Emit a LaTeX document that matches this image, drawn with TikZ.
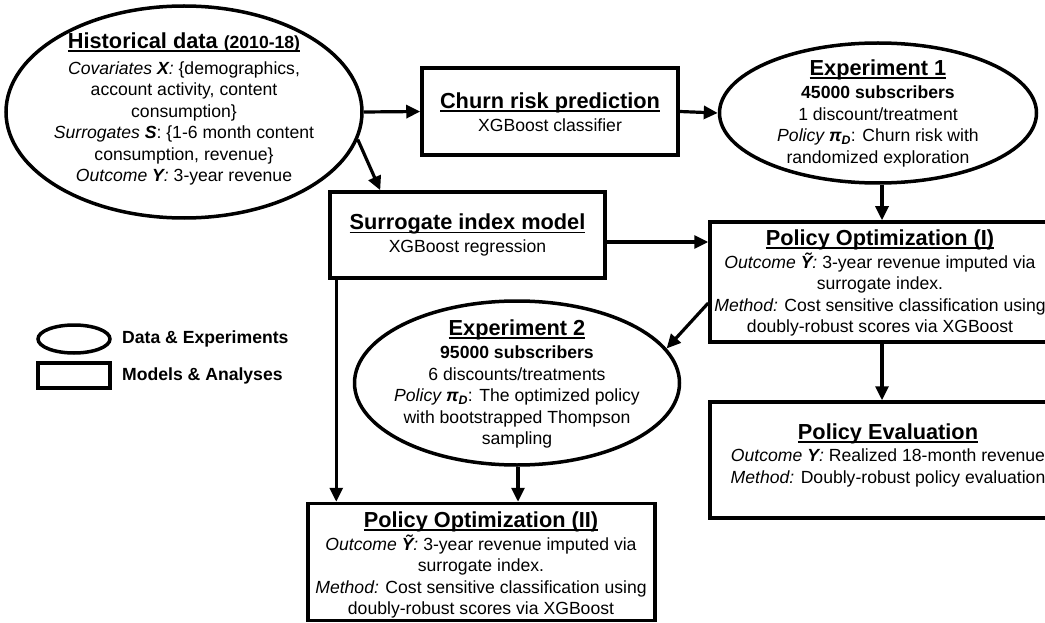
\documentclass[tikz,border=0pt]{standalone}
\usepackage{fontspec}
\setmainfont{Liberation Sans}
\usetikzlibrary{shapes.geometric,arrows.meta,calc}
\newcommand\myul[1]{\setbox0\hbox{#1}\rlap{\rule[-3.5pt]{\wd0}{1.8pt}}\box0}
\newcommand\titlefont{\fontsize{21.75}{26}\selectfont\bfseries}
\newcommand\pid{{\bfseries\itshape π\textsubscript{D}}}
\begin{document}
\begin{tikzpicture}[x=1pt,y=-1pt,
  bodyfont/.style={font=\fontsize{17.6}{21.5}\selectfont},
  txt/.style={bodyfont, align=center, inner sep=0pt},
  ell/.style={draw, line width=3.5pt, ellipse, inner sep=0pt},
  boxshape/.style={draw, line width=3.5pt, rectangle, inner sep=0pt},
  arr/.style={line width=3.2pt, -{Triangle[length=14pt,width=13pt]}}
]
\useasboundingbox (0,0) rectangle (1045,623);
\clip (0,0) rectangle (1045,623);

% shapes
\node[ell, minimum width=356pt, minimum height=212pt] (hist) at (184,112) {};
\node[boxshape, minimum width=256pt, minimum height=87pt] (churn) at (550,111.5) {};
\node[ell, minimum width=317pt, minimum height=140pt] (exp1) at (878,113) {};
\node[boxshape, minimum width=275pt, minimum height=86pt] (surr) at (467.5,235) {};
\node[boxshape, minimum width=342pt, minimum height=120pt] (po1) at (881,282) {};
\node[ell, minimum width=325pt, minimum height=164pt] (exp2) at (517,383) {};
\node[boxshape, minimum width=342pt, minimum height=116pt] (pe) at (881,460) {};
\node[boxshape, minimum width=347pt, minimum height=117pt] (po2) at (481.5,562) {};

% legend
\node[ell, minimum width=72pt, minimum height=28pt] (legell) at (74,339) {};
\node[boxshape, minimum width=72pt, minimum height=25pt] (legbox) at (74,375.5) {};
\node[txt, anchor=west, font=\fontsize{17.6}{21.5}\selectfont\bfseries] (legt1) at (122,339) {Data \& Experiments};
\node[txt, anchor=west, font=\fontsize{17.6}{21.5}\selectfont\bfseries] (legt2) at (122,376) {Models \& Analyses};

% texts
\node[txt] (histt) at (184,109) {{\titlefont\myul{Historical data {\fontsize{17.6}{21.5}\selectfont(2010-18)}}}\\[4pt]
  {\itshape Covariates {\bfseries X}:} \{demographics,\\
  account activity, content\\
  consumption\}\\
  {\itshape Surrogates {\bfseries S}}: \{1-6 month content\\
  consumption, revenue\}\\
  {\itshape Outcome {\bfseries Y}:} 3-year revenue};
\node[txt] (churnt) at (550,112) {{\titlefont\myul{Churn risk prediction}}\\[1pt] XGBoost classifier};
\node[txt] (exp1t) at (878,113) {{\titlefont\myul{Experiment 1}}\\[2pt]
  \textbf{45000 subscribers}\\
  1 discount/treatment\\
  {\itshape Policy} \pid: Churn risk with\\
  randomized exploration};
\node[txt] (surrt) at (467.5,235) {{\titlefont\myul{Surrogate index model}}\\[1pt] XGBoost regression};
\node[txt] (po1t) at (880,283) {{\titlefont\myul{Policy Optimization (I)}}\\[1pt]
  {\itshape Outcome {\bfseries Ỹ}:} 3-year revenue imputed via\\
  surrogate index.\\
  {\itshape Method:} Cost sensitive classification using\\
  doubly-robust scores via XGBoost};
\node[txt] (exp2t) at (517,384) {{\titlefont\myul{Experiment 2}}\\[2pt]
  \textbf{95000 subscribers}\\
  6 discounts/treatments\\
  {\itshape Policy} \pid: The optimized policy\\
  with bootstrapped Thompson\\
  sampling};
\node[txt] (pet) at (888,455) {{\titlefont\myul{Policy Evaluation}}\\[1pt]
  {\itshape Outcome {\bfseries Y}:} Realized 18-month revenue\\
  {\itshape Method:} Doubly-robust policy evaluation};
\node[txt] (po2t) at (481,565) {{\titlefont\myul{Policy Optimization (II)}}\\[1pt]
  {\itshape Outcome {\bfseries Ỹ}:} 3-year revenue imputed via\\
  surrogate index.\\
  {\itshape Method:} Cost sensitive classification using\\
  doubly-robust scores via XGBoost};

% connectors
\draw[arr] (hist.east) -- (churn.west);
\coordinate (surrin) at ($(surr.north west)+(52,0)$);
\draw[arr] (hist.-9) -- (surrin);
\draw[arr] (churn.east) -- (exp1.west);
\draw[arr] ([xshift=4pt]exp1.south) -- ([xshift=4pt]exp1.south |- po1.north);
\draw[arr] ([yshift=-7pt]surr.east) -- ([yshift=-7pt]surr.east -| po1.west);
\draw[arr] ([yshift=-21pt]po1.west) -- (exp2.13);
\draw[arr] ([xshift=1pt]po1.south) -- ([xshift=1pt]pe.north);
\coordinate (surrout) at ($(surr.south west)+(8,0)$);
\draw[arr] (surrout) -- (surrout |- po2.north);
\draw[arr] ([xshift=1pt]exp2.south) -- ([xshift=1pt]exp2.south |- po2.north);
\end{tikzpicture}
\end{document}
